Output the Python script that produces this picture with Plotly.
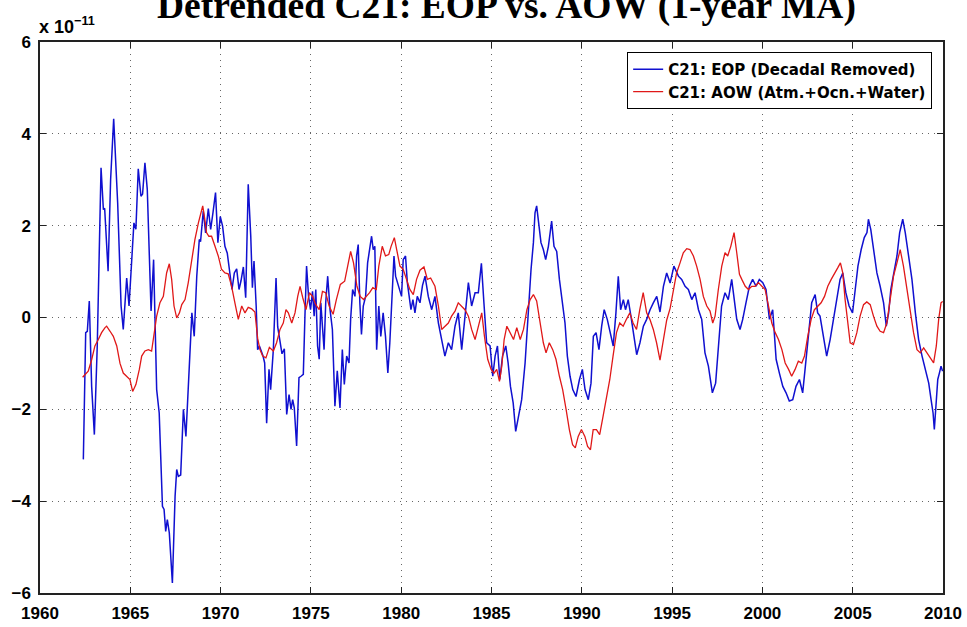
import plotly.graph_objects as go

# values in units of 1e-11
eop_year = [1962.40, 1962.53, 1962.62, 1962.73, 1962.86, 1963.01, 1963.17, 1963.38, 1963.51, 1963.58, 1963.77, 1963.91,
            1964.08, 1964.30, 1964.49, 1964.61, 1964.80, 1964.93, 1965.20, 1965.31, 1965.44, 1965.59, 1965.68, 1965.81,
            1965.94, 1966.15, 1966.29, 1966.46, 1966.60, 1966.78, 1966.87, 1966.96, 1967.05, 1967.16, 1967.33, 1967.48,
            1967.57, 1967.66, 1967.79, 1967.94, 1968.08, 1968.25, 1968.41, 1968.54, 1968.68, 1968.82, 1968.89, 1969.04,
            1969.17, 1969.32, 1969.45, 1969.58, 1969.72, 1969.85, 1969.98, 1970.11, 1970.24, 1970.37, 1970.52, 1970.63,
            1970.76, 1970.89, 1971.02, 1971.13, 1971.26, 1971.39, 1971.53, 1971.67, 1971.76, 1971.85, 1971.97, 1972.05,
            1972.15, 1972.35, 1972.44, 1972.55, 1972.68, 1972.77, 1972.92, 1973.07, 1973.16, 1973.29, 1973.40, 1973.53,
            1973.66, 1973.79, 1973.90, 1973.99, 1974.08, 1974.21, 1974.34, 1974.45, 1974.58, 1974.67, 1974.76, 1974.87,
            1974.98, 1975.09, 1975.18, 1975.27, 1975.37, 1975.46, 1975.55, 1975.64, 1975.73, 1975.82, 1975.93, 1976.06,
            1976.19, 1976.33, 1976.46, 1976.61, 1976.74, 1976.85, 1976.98, 1977.11, 1977.20, 1977.31, 1977.44, 1977.53,
            1977.62, 1977.71, 1977.80, 1977.90, 1978.03, 1978.14, 1978.23, 1978.36, 1978.45, 1978.54, 1978.64, 1978.76,
            1978.87, 1979.00, 1979.13, 1979.26, 1979.37, 1979.50, 1979.60, 1979.69, 1979.80, 1979.89, 1980.02, 1980.11,
            1980.24, 1980.34, 1980.43, 1980.54, 1980.65, 1980.76, 1980.89, 1981.04, 1981.18, 1981.32, 1981.50, 1981.69,
            1981.87, 1982.06, 1982.24, 1982.42, 1982.61, 1982.79, 1982.98, 1983.16, 1983.35, 1983.53, 1983.72, 1983.90,
            1984.09, 1984.27, 1984.44, 1984.58, 1984.73, 1984.92, 1985.07, 1985.20, 1985.33, 1985.46, 1985.61, 1985.79,
            1985.92, 1986.05, 1986.20, 1986.34, 1986.49, 1986.67, 1986.86, 1987.04, 1987.19, 1987.32, 1987.41, 1987.50,
            1987.63, 1987.74, 1987.87, 1988.00, 1988.15, 1988.33, 1988.46, 1988.61, 1988.76, 1988.92, 1989.07, 1989.20,
            1989.35, 1989.50, 1989.68, 1989.87, 1990.03, 1990.18, 1990.36, 1990.51, 1990.64, 1990.79, 1990.95, 1991.10,
            1991.24, 1991.41, 1991.55, 1991.74, 1991.89, 1992.02, 1992.15, 1992.30, 1992.42, 1992.57, 1992.72, 1992.88,
            1993.04, 1993.22, 1993.41, 1993.59, 1993.78, 1993.96, 1994.15, 1994.33, 1994.52, 1994.70, 1994.89, 1995.10,
            1995.35, 1995.53, 1995.72, 1995.90, 1996.09, 1996.27, 1996.46, 1996.64, 1996.82, 1997.01, 1997.23, 1997.41,
            1997.60, 1997.74, 1997.93, 1998.11, 1998.30, 1998.43, 1998.58, 1998.76, 1998.91, 1999.09, 1999.28, 1999.46,
            1999.65, 1999.83, 2000.02, 2000.20, 2000.39, 2000.57, 2000.76, 2000.94, 2001.13, 2001.31, 2001.49, 2001.68,
            2001.86, 2002.05, 2002.23, 2002.38, 2002.55, 2002.73, 2002.92, 2003.06, 2003.19, 2003.38, 2003.56, 2003.75,
            2003.93, 2004.12, 2004.30, 2004.45, 2004.62, 2004.80, 2004.99, 2005.14, 2005.29, 2005.47, 2005.64, 2005.79,
            2005.87, 2006.00, 2006.15, 2006.34, 2006.52, 2006.71, 2006.86, 2006.99, 2007.11, 2007.26, 2007.45, 2007.60,
            2007.77, 2007.91, 2008.10, 2008.28, 2008.47, 2008.65, 2008.84, 2009.02, 2009.21, 2009.34, 2009.45, 2009.52,
            2009.62, 2009.71, 2009.80, 2009.89, 2009.98]
eop_val = [-3.09, -0.33, -0.30, 0.36, -1.50, -2.55, -0.62, 3.26, 2.35, 2.38, 1.01, 3.00,
           4.33, 2.50, 0.25, -0.26, 0.86, 0.25, 2.06, 1.92, 3.24, 2.64, 2.69, 3.37,
           2.79, 0.14, 1.26, -1.57, -2.08, -4.11, -4.18, -4.66, -4.40, -4.69, -5.78, -3.89,
           -3.31, -3.46, -3.43, -2.00, -2.59, -1.35, 0.10, -0.41, 0.90, 1.70, 1.65, 2.32,
           1.84, 2.37, 1.92, 2.29, 2.72, 1.63, 2.20, 1.99, 1.55, 1.40, 0.90, 0.61,
           0.97, 1.06, 0.61, 0.80, 1.10, 0.43, 2.90, 1.77, 0.65, 1.23, 0.25, -0.70,
           -0.62, -0.84, -0.99, -2.30, -1.13, -1.57, -0.70, 0.86, -0.20, -0.57, -0.79, -0.68,
           -2.11, -1.68, -2.00, -1.79, -1.97, -2.80, -1.31, -1.28, -1.24, 0.03, 1.12, 0.46,
           0.17, 0.57, 0.03, 0.61, -0.62, -0.91, 0.32, -0.20, -0.70, 0.32, 0.90, 0.17,
           -0.26, -1.93, -1.16, -1.97, -0.70, -1.46, -0.84, -0.99, -0.04, 0.61, 0.46, 1.34,
           1.59, 0.32, -0.37, 0.25, 0.46, 1.19, 1.48, 1.77, 1.48, 1.55, -0.70, 0.25,
           -0.41, 0.10, -0.41, -1.21, -0.55, 0.61, 1.34, 0.90, 0.76, 0.61, 0.46, 1.26,
           1.34, 0.76, 0.46, 0.17, 0.39, 0.10, 0.46, 0.32, 0.70, 0.90, 0.46, 0.17,
           0.46, -0.12, -0.48, -0.84, -0.55, -0.70, -0.19, 0.10, -0.70, 0.03, 0.76, 0.25,
           0.54, 0.54, 1.18, 0.32, -0.55, -0.62, -1.28, -0.84, -0.62, -1.35, -0.84, -0.62,
           -0.99, -1.50, -1.86, -2.48, -2.15, -1.79, -0.99, 0.17, 1.05, 1.63, 2.28, 2.43,
           1.99, 1.63, 1.48, 1.26, 1.55, 2.10, 1.55, 1.44, 0.83, 0.39, -0.12, -0.84,
           -1.28, -1.57, -1.72, -1.35, -1.13, -1.57, -1.79, -1.43, -0.41, -0.33, -0.70, -0.19,
           0.17, -0.04, -0.26, -0.62, 0.10, 0.90, 0.17, 0.39, 0.17, 0.39, 0.03, -0.41,
           -0.81, -0.55, -0.19, -0.04, 0.17, 0.32, 0.46, 0.12, 0.68, 0.97, 0.75, 1.12,
           0.90, 0.83, 0.68, 0.61, 0.39, 0.54, 0.17, -0.04, -0.77, -1.06, -1.64, -1.43,
           -0.48, 0.25, 0.54, 0.39, 0.83, 0.39, -0.04, -0.26, -0.04, 0.32, 0.68, 0.83,
           0.68, 0.83, 0.76, 0.61, -0.04, 0.17, -0.91, -1.21, -1.50, -1.64, -1.82, -1.79,
           -1.50, -1.35, -1.64, -1.06, -0.33, 0.32, 0.50, 0.10, 0.03, -0.41, -0.84, -0.48,
           -0.04, 0.39, 0.83, 0.97, 0.54, 0.25, 0.10, 0.61, 1.12, 1.48, 1.74, 1.85,
           2.14, 1.92, 1.48, 0.97, 0.68, 0.32, -0.19, 0.10, 0.61, 0.97, 1.34, 1.85,
           2.14, 1.85, 1.26, 0.83, 0.10, -0.48, -0.84, -1.14, -1.43, -1.79, -2.08, -2.44,
           -1.72, -1.35, -1.21, -1.06, -1.17]

aow_year = [1962.36, 1962.54, 1962.67, 1962.86, 1963.04, 1963.23, 1963.41, 1963.60, 1963.69, 1963.88, 1964.06, 1964.25,
            1964.43, 1964.61, 1964.80, 1964.98, 1965.13, 1965.31, 1965.50, 1965.63, 1965.81, 1966.00, 1966.18, 1966.31,
            1966.46, 1966.64, 1966.83, 1967.01, 1967.16, 1967.29, 1967.42, 1967.57, 1967.72, 1967.85, 1968.03, 1968.21,
            1968.40, 1968.58, 1968.77, 1968.89, 1969.01, 1969.10, 1969.22, 1969.35, 1969.50, 1969.69, 1969.87, 1970.05,
            1970.24, 1970.42, 1970.61, 1970.80, 1970.98, 1971.17, 1971.35, 1971.53, 1971.72, 1971.90, 1972.05, 1972.18,
            1972.33, 1972.51, 1972.70, 1972.92, 1973.10, 1973.29, 1973.47, 1973.62, 1973.75, 1973.94, 1974.12, 1974.27,
            1974.40, 1974.55, 1974.73, 1974.92, 1975.09, 1975.27, 1975.46, 1975.64, 1975.82, 1976.01, 1976.23, 1976.41,
            1976.63, 1976.87, 1977.05, 1977.20, 1977.36, 1977.55, 1977.73, 1977.92, 1978.07, 1978.25, 1978.43, 1978.62,
            1978.76, 1978.95, 1979.13, 1979.31, 1979.44, 1979.62, 1979.75, 1979.93, 1980.11, 1980.30, 1980.48, 1980.67,
            1980.85, 1981.04, 1981.26, 1981.45, 1981.63, 1981.87, 1982.06, 1982.24, 1982.42, 1982.61, 1982.79, 1982.98,
            1983.16, 1983.35, 1983.53, 1983.72, 1983.90, 1984.09, 1984.27, 1984.46, 1984.61, 1984.79, 1984.98, 1985.14,
            1985.29, 1985.44, 1985.57, 1985.70, 1985.85, 1986.03, 1986.22, 1986.40, 1986.59, 1986.77, 1986.96, 1987.14,
            1987.32, 1987.50, 1987.69, 1987.87, 1988.02, 1988.20, 1988.39, 1988.57, 1988.76, 1988.94, 1989.13, 1989.31,
            1989.49, 1989.64, 1989.80, 1989.98, 1990.17, 1990.32, 1990.48, 1990.63, 1990.81, 1990.99, 1991.18, 1991.36,
            1991.55, 1991.73, 1991.92, 1992.10, 1992.29, 1992.47, 1992.66, 1992.84, 1993.03, 1993.21, 1993.40, 1993.59,
            1993.77, 1993.96, 1994.14, 1994.33, 1994.52, 1994.70, 1994.89, 1995.07, 1995.25, 1995.44, 1995.62, 1995.81,
            1995.99, 1996.18, 1996.36, 1996.55, 1996.73, 1996.92, 1997.10, 1997.25, 1997.38, 1997.56, 1997.75, 1997.93,
            1998.08, 1998.25, 1998.43, 1998.58, 1998.73, 1998.86, 1999.05, 1999.23, 1999.41, 1999.60, 1999.78, 1999.97,
            2000.15, 2000.34, 2000.52, 2000.71, 2000.89, 2001.08, 2001.26, 2001.45, 2001.62, 2001.81, 2001.99, 2002.18,
            2002.33, 2002.51, 2002.70, 2002.88, 2003.07, 2003.25, 2003.44, 2003.62, 2003.81, 2003.99, 2004.17, 2004.32,
            2004.45, 2004.58, 2004.73, 2004.86, 2005.04, 2005.23, 2005.41, 2005.60, 2005.78, 2005.97, 2006.15, 2006.34,
            2006.52, 2006.71, 2006.89, 2007.08, 2007.26, 2007.45, 2007.63, 2007.81, 2008.00, 2008.19, 2008.37, 2008.56,
            2008.74, 2008.93, 2009.11, 2009.30, 2009.48, 2009.63, 2009.76, 2009.89, 2009.98]
aow_val = [-1.30, -1.21, -1.17, -0.92, -0.62, -0.48, -0.33, -0.22, -0.19, -0.30, -0.41, -0.62,
           -1.00, -1.21, -1.28, -1.35, -1.61, -1.46, -1.13, -0.84, -0.73, -0.70, -0.73, -0.41,
           0.03, 0.32, 0.46, 0.97, 1.17, 0.83, 0.25, -0.01, 0.10, 0.28, 0.39, 0.76,
           1.26, 1.70, 2.06, 2.28, 2.43, 2.21, 1.85, 1.77, 1.77, 1.55, 1.34, 1.05,
           0.97, 0.95, 0.68, 0.30, -0.04, 0.25, 0.10, 0.22, 0.19, 0.12, -0.45, -0.70,
           -0.84, -0.88, -0.65, -0.73, -0.55, -0.26, -0.12, 0.17, 0.10, -0.12, 0.10, 0.46,
           0.68, 0.43, 0.17, 0.54, 0.46, 0.28, 0.17, 0.57, 0.54, 0.25, 0.07, 0.39,
           0.72, 0.79, 1.19, 1.44, 1.19, 0.68, 0.46, 0.39, 0.46, 0.54, 0.65, 0.61,
           1.12, 1.55, 1.34, 1.37, 1.55, 1.74, 1.48, 1.12, 1.05, 0.83, 0.61, 0.50,
           0.83, 1.03, 1.10, 0.83, 0.86, 0.68, 0.25, -0.26, -0.19, -0.12, 0.03, 0.14,
           0.32, 0.25, 0.17, 0.03, -0.26, -0.48, -0.19, 0.10, -0.41, -0.91, -1.13, -1.21,
           -1.13, -1.39, -1.06, -0.48, -0.19, -0.33, -0.48, -0.22, -0.48, -0.26, 0.17, 0.39,
           0.50, 0.36, -0.12, -0.55, -0.77, -0.55, -0.70, -0.91, -1.28, -1.57, -2.00, -2.44,
           -2.77, -2.84, -2.59, -2.44, -2.59, -2.81, -2.88, -2.44, -2.44, -2.55, -2.15, -1.79,
           -1.35, -0.84, -0.33, -0.12, -0.19, -0.04, 0.10, -0.12, -0.26, 0.17, 0.54, 0.10,
           -0.04, -0.26, -0.55, -0.93, -0.45, -0.06, 0.20, 0.61, 0.97, 1.19, 1.41, 1.50,
           1.48, 1.34, 1.12, 0.83, 0.46, 0.25, 0.14, -0.12, 0.03, 0.61, 1.12, 1.41,
           1.34, 1.55, 1.85, 1.41, 0.94, 0.83, 0.68, 0.61, 0.68, 0.68, 0.76, 0.68,
           0.61, 0.25, -0.12, -0.33, -0.48, -0.70, -0.99, -1.13, -1.28, -1.13, -0.95, -0.99,
           -0.84, -0.41, -0.04, 0.17, 0.25, 0.32, 0.46, 0.68, 0.83, 0.97, 1.08, 1.19,
           0.97, 0.39, -0.12, -0.55, -0.59, -0.33, 0.03, 0.28, 0.34, 0.28, 0.03, -0.19,
           -0.30, -0.33, -0.12, 0.39, 0.90, 1.19, 1.48, 1.12, 0.61, 0.10, -0.33, -0.70,
           -0.77, -0.66, -0.77, -0.88, -0.99, -0.62, -0.04, 0.32, 0.35]

x_ticks = [1960, 1965, 1970, 1975, 1980, 1985, 1990, 1995, 2000, 2005, 2010]
y_ticks = [-6, -4, -2, 0, 2, 4, 6]

bold = dict(family="Liberation Sans", size=17, color="black", weight="bold")

fig = go.Figure()
fig.add_trace(go.Scatter(x=eop_year, y=eop_val, mode="lines", name="C21: EOP (Decadal Removed)",
                         line=dict(color="#1010d0", width=1.5)))
fig.add_trace(go.Scatter(x=aow_year, y=aow_val, mode="lines", name="C21: AOW (Atm.+Ocn.+Water)",
                         line=dict(color="#e01818", width=1.3)))

axis_style = dict(showline=True, linecolor="#222222", linewidth=1.5, mirror="ticks",
                  ticks="inside", ticklen=6, tickcolor="#222222", tickwidth=1,
                  showgrid=True, gridcolor="rgba(0,0,0,0.6)", gridwidth=1, griddash="1px,5px",
                  zeroline=False, tickfont=bold, ticklabelstandoff=4, automargin=False)

fig.update_xaxes(range=[1960, 2010], tickvals=x_ticks, **axis_style)
fig.update_yaxes(range=[-6, 6], tickvals=y_ticks, **axis_style)

fig.update_layout(
    width=967, height=627,
    margin=dict(l=40, r=24, t=42, b=34),
    paper_bgcolor="white", plot_bgcolor="white",
    showlegend=True,
    legend=dict(x=0.988, y=0.982, xanchor="right", yanchor="top",
                bgcolor="white", bordercolor="black", borderwidth=1,
                font=dict(family="DejaVu Sans", size=15, color="black", weight="bold"),
                tracegroupgap=0, itemwidth=30),
)

# title sits partly above the top edge, as in the source image
fig.add_annotation(text="Detrended C21: EOP vs. AOW (1-year MA)", xref="paper", yref="paper",
                   x=0.517, y=1, xanchor="center", yanchor="bottom", yshift=13, showarrow=False,
                   font=dict(family="Liberation Serif", size=37.5, color="black", weight="bold"))
fig.add_annotation(text="<b>x 10<sup>−11</sup></b>", xref="paper", yref="paper",
                   x=0, y=1, xanchor="left", yanchor="bottom", xshift=-3, yshift=3, showarrow=False,
                   font=dict(family="Liberation Sans", size=18, color="black"))

fig.write_html("out.html", config={"displayModeBar": False},
               post_script="document.body.style.margin='0';")
